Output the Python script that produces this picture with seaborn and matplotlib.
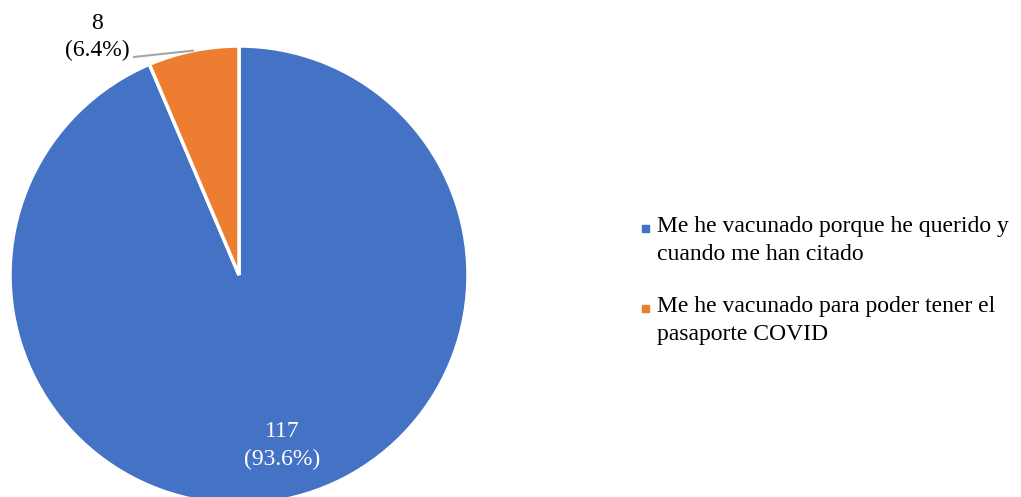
import matplotlib
matplotlib.use("Agg")
import matplotlib.pyplot as plt
import seaborn as sns
import numpy as np
from matplotlib.patches import Rectangle

sns.set_theme(style="white")
plt.rcParams['font.family'] = ['Liberation Serif', 'DejaVu Serif']

# data
labels = ["Me he vacunado porque he querido y\ncuando me han citado",
          "Me he vacunado para poder tener el\npasaporte COVID"]
counts = [117, 8]
colors = ["#4472C4", "#ED7D31"]

fig = plt.figure(figsize=(10.21, 4.97), dpi=100)
ax = fig.add_axes([10 / 1021, -7 / 497, 458 / 1021, 458 / 497])

wedges, _ = ax.pie(counts, colors=colors, startangle=90, counterclock=False,
                   wedgeprops=dict(edgecolor="white", linewidth=2.5))
ax.set_xlim(-1, 1)
ax.set_ylim(-1, 1)
ax.set_aspect("auto")

total = sum(counts)
pcts = [c / total * 100 for c in counts]

# big slice label inside (white)
ax.text(0.19, -0.745, f"{counts[0]}\n({pcts[0]:.1f}%)", color="white",
        ha="center", va="center", fontsize=17, linespacing=1.45)

# small slice label outside with leader line
ang = np.deg2rad((wedges[1].theta1 + wedges[1].theta2) / 2)
ax.plot([-0.459, np.cos(ang) * 1.0], [0.952, np.sin(ang) * 1.0],
        color="#A6A6A6", lw=1.5, clip_on=False)
ax.text(-0.62, 1.04, f"{counts[1]}\n({pcts[1]:.1f}%)", color="black",
        ha="center", va="center", fontsize=17, linespacing=1.4, clip_on=False)

# legend drawn by hand so the marker sits on the first line
ys = [237, 317]
for lab, col, yb in zip(labels, colors, ys):
    fig.add_artist(Rectangle((642 / 1021, 1 - (yb - 5) / 497), 7 / 1021, 7 / 497,
                             transform=fig.transFigure, color=col))
    fig.text(657 / 1021, 1 - (yb - 21) / 497, lab, fontsize=17, va="top",
             ha="left", color="black", linespacing=1.45)

fig.savefig("out.png", dpi=100)
